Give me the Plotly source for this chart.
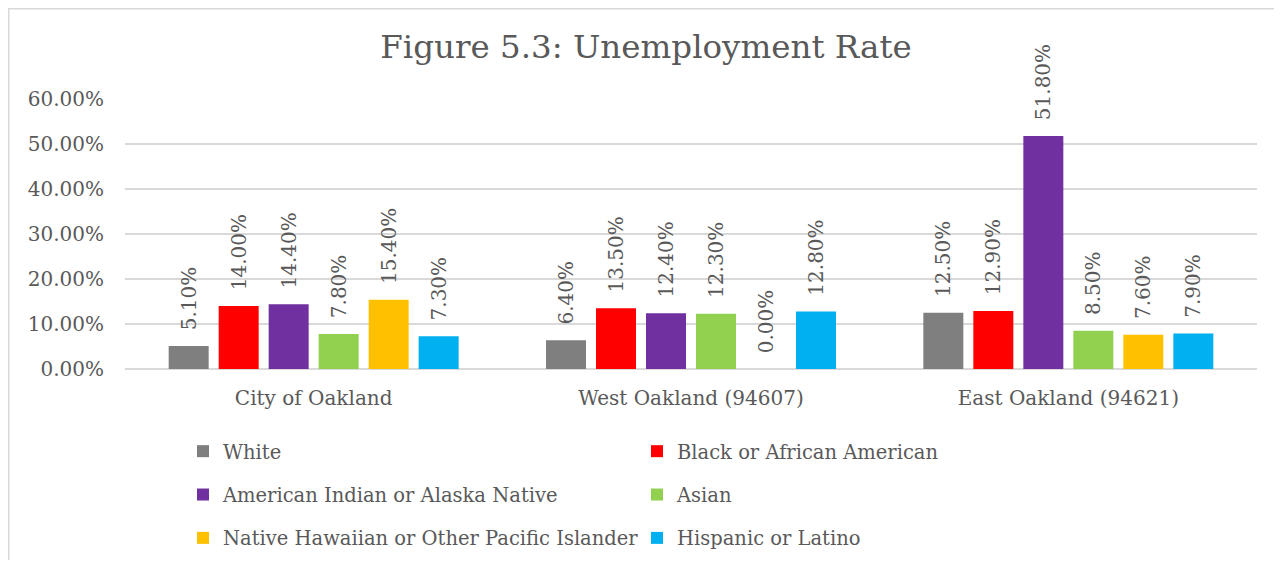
import plotly.graph_objects as go

categories = ["City of Oakland", "West Oakland (94607)", "East Oakland (94621)"]
series_names = [
    "White",
    "Black or African American",
    "American Indian or Alaska Native",
    "Asian",
    "Native Hawaiian or Other Pacific Islander",
    "Hispanic or Latino",
]
white = [0.051, 0.064, 0.125]
black = [0.140, 0.135, 0.129]
american_indian = [0.144, 0.124, 0.518]
asian = [0.078, 0.123, 0.085]
native_hawaiian = [0.154, 0.000, 0.076]
hispanic = [0.073, 0.128, 0.079]
series_values = [white, black, american_indian, asian, native_hawaiian, hispanic]
colors = ["#7f7f7f", "#ff0000", "#7030a0", "#92d050", "#ffc000", "#00b0f0"]
legend_ids = ["legend", "legend2", "legend", "legend2", "legend", "legend2"]

FONT = "DejaVu Serif"
GREY = "#595959"

fig = go.Figure()
for name, vals, col, lg in zip(series_names, series_values, colors, legend_ids):
    fig.add_trace(go.Bar(
        name=name, x=categories, y=vals,
        marker=dict(color=col, line=dict(width=0)),
        texttemplate="\u00a0\u00a0%{y:.2%}",
        textposition="outside", textangle=-90, constraintext="none",
        cliponaxis=False,
        textfont=dict(family=FONT, size=20, color=GREY),
        legend=lg, legendgroup=name,
    ))

# page body has an 8px margin; work in reference-pixel coordinates minus that offset
OFF = 8
W, H = 1282 - 2 * OFF, 568 - 2 * OFF
L, T = 125 - OFF, 99 - OFF
R = W - (1257 - OFF)
B = H - (369 - OFF)
pw, ph = W - L - R, H - T - B


def px_x(p):
    return (p - OFF - L) / pw


def px_y(p):
    return (H - B - (p - OFF)) / ph


fig.update_layout(
    width=W, height=H,
    margin=dict(l=L, r=R, t=T, b=B, autoexpand=False),
    paper_bgcolor="white", plot_bgcolor="white",
    barmode="group", bargap=0.205, bargroupgap=0.2,
    font=dict(family=FONT, color=GREY),
    title=dict(text="Figure 5.3: Unemployment Rate", x=(646 - OFF) / W, xanchor="center",
               xref="container", yref="container", y=1 - (47 - OFF) / H, yanchor="middle",
               font=dict(family=FONT, size=32.5, color=GREY)),
    xaxis=dict(showgrid=False, showline=False, zeroline=False,
               tickfont=dict(family=FONT, size=20, color=GREY), ticklabelstandoff=15),
    yaxis=dict(range=[0, 0.6], dtick=0.1, tickformat=".2%", gridcolor="#d9d9d9",
               gridwidth=1.5, zeroline=True, zerolinecolor="#d9d9d9", zerolinewidth=1.5,
               showline=False, tickfont=dict(family=FONT, size=20, color=GREY),
               ticklabelstandoff=20),
    legend=dict(x=px_x(183), xanchor="left", y=px_y(432), yanchor="top",
                orientation="v", tracegroupgap=15, font=dict(family=FONT, size=19.5, color=GREY),
                bgcolor="rgba(0,0,0,0)"),
    legend2=dict(x=px_x(637), xanchor="left", y=px_y(432), yanchor="top",
                 orientation="v", tracegroupgap=15, font=dict(family=FONT, size=19.5, color=GREY),
                 bgcolor="rgba(0,0,0,0)"),
    shapes=[dict(type="rect", xref="paper", yref="paper",
                 x0=px_x(OFF + 0.75), x1=px_x(1320), y0=px_y(620), y1=px_y(OFF + 0.75),
                 line=dict(color="#d9d9d9", width=1.5), fillcolor="rgba(0,0,0,0)", layer="below")],
)

fig.write_html("out.html")
